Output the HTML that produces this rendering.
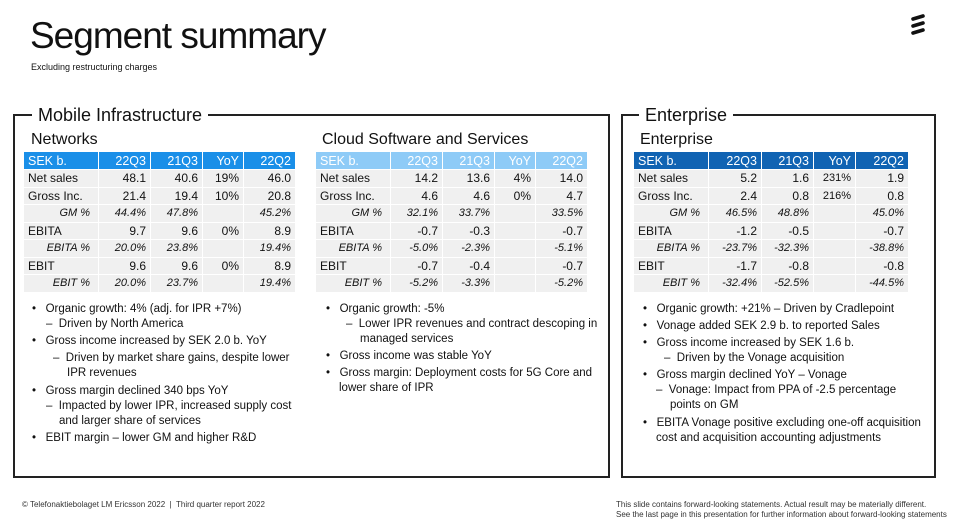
<!DOCTYPE html>
<html><head><meta charset="utf-8"><style>
body{margin:0;width:957px;height:527px;background:#fff;position:relative;overflow:hidden;font-family:"Liberation Sans",sans-serif;color:#111}
.a{position:absolute;white-space:nowrap}
.box{position:absolute;border:2px solid #222;box-sizing:border-box}
.bt{position:absolute;background:#fff;font-size:18px;padding:0 6px;line-height:22px}
table{position:absolute;border-collapse:collapse;font-size:12px}
td{border:1px solid #fff;background:#f0f0f0;padding:0 4px;height:16.5px;line-height:16px;text-align:right}
td:first-child{text-align:left}
tr.h td{color:#fff;height:17px;font-size:12.5px}
tr.i td{font-style:italic;font-size:11px}
tr.i td:first-child{text-align:right;padding-right:8px}
.l{position:absolute;font-size:11.5px;white-space:nowrap;line-height:15px}
</style></head><body>
<div class="a" style="left:30px;top:15px;font-size:37px;letter-spacing:-1px;color:#111">Segment summary</div>
<div class="a" style="left:31px;top:62px;font-size:9px">Excluding restructuring charges</div>
<svg class="a" style="left:908px;top:13px" width="22" height="24" viewBox="0 0 22 24"><g stroke="#111" stroke-width="3.6" stroke-linecap="round"><line x1="5" y1="6" x2="15" y2="3"/><line x1="5" y1="13" x2="15" y2="10"/><line x1="5" y1="20" x2="15" y2="17"/></g></svg>

<div class="box" style="left:13px;top:114px;width:597px;height:364px"></div>
<div class="bt" style="left:32px;top:104px">Mobile Infrastructure</div>
<div class="box" style="left:621px;top:114px;width:315px;height:364px"></div>
<div class="bt" style="left:639px;top:104px">Enterprise</div>

<div class="a" style="left:31px;top:131px;font-size:16px">Networks</div>
<div class="a" style="left:322px;top:131px;font-size:16px">Cloud Software and Services</div>
<div class="a" style="left:640px;top:131px;font-size:16px">Enterprise</div>

<table style="left:23px;top:151px;width:273px">
<colgroup><col style="width:75px"><col style="width:52px"><col style="width:52px"><col style="width:41px"><col style="width:52px"></colgroup>
<tr class="h"><td style="background:#1a8fe8">SEK b.</td><td style="background:#1a8fe8">22Q3</td><td style="background:#1a8fe8">21Q3</td><td style="background:#1a8fe8">YoY</td><td style="background:#1a8fe8">22Q2</td></tr>
<tr><td>Net sales</td><td>48.1</td><td>40.6</td><td>19%</td><td>46.0</td></tr>
<tr><td>Gross Inc.</td><td>21.4</td><td>19.4</td><td>10%</td><td>20.8</td></tr>
<tr class="i"><td>GM %</td><td>44.4%</td><td>47.8%</td><td></td><td>45.2%</td></tr>
<tr><td>EBITA</td><td>9.7</td><td>9.6</td><td>0%</td><td>8.9</td></tr>
<tr class="i"><td>EBITA %</td><td>20.0%</td><td>23.8%</td><td></td><td>19.4%</td></tr>
<tr><td>EBIT</td><td>9.6</td><td>9.6</td><td>0%</td><td>8.9</td></tr>
<tr class="i"><td>EBIT %</td><td>20.0%</td><td>23.7%</td><td></td><td>19.4%</td></tr>
</table>

<table style="left:315px;top:151px;width:273px">
<colgroup><col style="width:75px"><col style="width:52px"><col style="width:52px"><col style="width:41px"><col style="width:52px"></colgroup>
<tr class="h"><td style="background:#8ecbf7">SEK b.</td><td style="background:#8ecbf7">22Q3</td><td style="background:#8ecbf7">21Q3</td><td style="background:#8ecbf7">YoY</td><td style="background:#8ecbf7">22Q2</td></tr>
<tr><td>Net sales</td><td>14.2</td><td>13.6</td><td>4%</td><td>14.0</td></tr>
<tr><td>Gross Inc.</td><td>4.6</td><td>4.6</td><td>0%</td><td>4.7</td></tr>
<tr class="i"><td>GM %</td><td>32.1%</td><td>33.7%</td><td></td><td>33.5%</td></tr>
<tr><td>EBITA</td><td>-0.7</td><td>-0.3</td><td></td><td>-0.7</td></tr>
<tr class="i"><td>EBITA %</td><td>-5.0%</td><td>-2.3%</td><td></td><td>-5.1%</td></tr>
<tr><td>EBIT</td><td>-0.7</td><td>-0.4</td><td></td><td>-0.7</td></tr>
<tr class="i"><td>EBIT %</td><td>-5.2%</td><td>-3.3%</td><td></td><td>-5.2%</td></tr>
</table>

<table style="left:633px;top:151px;width:276px">
<colgroup><col style="width:75px"><col style="width:53px"><col style="width:52px"><col style="width:42px"><col style="width:53px"></colgroup>
<tr class="h"><td style="background:#1063b3">SEK b.</td><td style="background:#1063b3">22Q3</td><td style="background:#1063b3">21Q3</td><td style="background:#1063b3">YoY</td><td style="background:#1063b3">22Q2</td></tr>
<tr><td>Net sales</td><td>5.2</td><td>1.6</td><td style="font-size:11px">231%</td><td>1.9</td></tr>
<tr><td>Gross Inc.</td><td>2.4</td><td>0.8</td><td style="font-size:11px">216%</td><td>0.8</td></tr>
<tr class="i"><td>GM %</td><td>46.5%</td><td>48.8%</td><td></td><td>45.0%</td></tr>
<tr><td>EBITA</td><td>-1.2</td><td>-0.5</td><td></td><td>-0.7</td></tr>
<tr class="i"><td>EBITA %</td><td>-23.7%</td><td>-32.3%</td><td></td><td>-38.8%</td></tr>
<tr><td>EBIT</td><td>-1.7</td><td>-0.8</td><td></td><td>-0.8</td></tr>
<tr class="i"><td>EBIT %</td><td>-32.4%</td><td>-52.5%</td><td></td><td>-44.5%</td></tr>
</table>

<div class="l" style="left:32px;top:302px">•&nbsp;&nbsp; Organic growth: 4% (adj. for IPR +7%)</div>
<div class="l" style="left:46px;top:317px">–&nbsp; Driven by North America</div>
<div class="l" style="left:32px;top:334px">•&nbsp;&nbsp; Gross income increased by SEK 2.0 b. YoY</div>
<div class="l" style="left:53px;top:351px">–&nbsp; Driven by market share gains, despite lower</div>
<div class="l" style="left:67px;top:366px">IPR revenues</div>
<div class="l" style="left:32px;top:384px">•&nbsp;&nbsp; Gross margin declined 340 bps YoY</div>
<div class="l" style="left:46px;top:399px">–&nbsp; Impacted by lower IPR, increased supply cost</div>
<div class="l" style="left:59px;top:414px">and larger share of services</div>
<div class="l" style="left:32px;top:431px">•&nbsp;&nbsp; EBIT margin – lower GM and higher R&amp;D</div>

<div class="l" style="left:326px;top:302px">•&nbsp;&nbsp; Organic growth: -5%</div>
<div class="l" style="left:346px;top:317px">–&nbsp; Lower IPR revenues and contract descoping in</div>
<div class="l" style="left:360px;top:332px">managed services</div>
<div class="l" style="left:326px;top:349px">•&nbsp;&nbsp; Gross income was stable YoY</div>
<div class="l" style="left:326px;top:366px">•&nbsp;&nbsp; Gross margin: Deployment costs for 5G Core and</div>
<div class="l" style="left:339px;top:381px">lower share of IPR</div>

<div class="l" style="left:643px;top:302px">•&nbsp;&nbsp; Organic growth: +21% – Driven by Cradlepoint</div>
<div class="l" style="left:643px;top:319px">•&nbsp;&nbsp; Vonage added SEK 2.9 b. to reported Sales</div>
<div class="l" style="left:643px;top:336px">•&nbsp;&nbsp; Gross income increased by SEK 1.6 b.</div>
<div class="l" style="left:664px;top:351px">–&nbsp; Driven by the Vonage acquisition</div>
<div class="l" style="left:643px;top:368px">•&nbsp;&nbsp; Gross margin declined YoY – Vonage</div>
<div class="l" style="left:656px;top:383px">–&nbsp; Vonage: Impact from PPA of -2.5 percentage</div>
<div class="l" style="left:670px;top:398px">points on GM</div>
<div class="l" style="left:643px;top:416px">•&nbsp;&nbsp; EBITA Vonage positive excluding one-off acquisition</div>
<div class="l" style="left:656px;top:431px">cost and acquisition accounting adjustments</div>

<div class="a" style="left:22px;top:500px;font-size:8px;color:#333">© Telefonaktiebolaget LM Ericsson 2022&nbsp; |&nbsp; Third quarter report 2022</div>
<div class="a" style="left:616px;top:500px;font-size:8px;color:#333;line-height:10px">This slide contains forward-looking statements. Actual result may be materially different.<br>See the last page in this presentation for further information about forward-looking statements</div>
</body></html>
